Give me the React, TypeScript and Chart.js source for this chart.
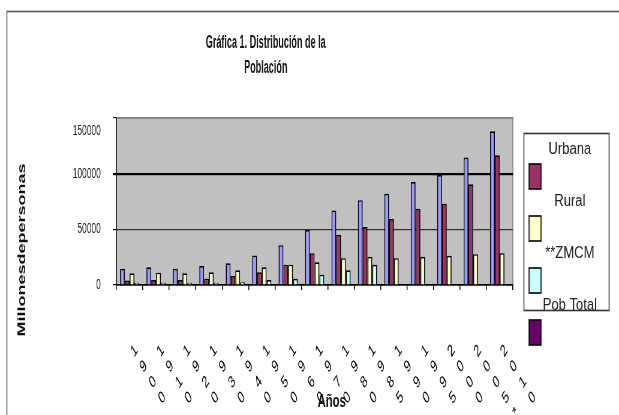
import React, { useEffect, useRef } from 'react';
import { Chart, registerables } from 'chart.js';

Chart.register(...registerables);

// Census years; each label is stacked one character per line.
const years = ['1900', '1910', '1920', '1930', '1940', '1950', '1960', '1970', '1980', '1985', '1990', '1995', '2000', '2005*', '2010'];

// Population series (thousands of people)
const pobTotal = [14500, 16000, 14500, 17000, 19600, 26500, 35800, 49400, 66900, 76200, 81900, 92500, 98800, 114500, 138000];
const urbana = [4000, 4500, 4500, 5700, 8100, 11400, 18300, 28600, 45200, 52100, 59300, 68400, 72900, 90400, 116600];
const rural = [10500, 11100, 10500, 11400, 13300, 16000, 18300, 20500, 24100, 25300, 24100, 25300, 26200, 27700, 28600];
const zmcm = [2100, 2100, 2100, 2100, 2400, 4500, 5600, 9300, 13300, 18100, null, null, null, null, null];

const yTicks = [0, 50000, 100000, 150000];
const Y_MAX = 150000;

const titleLines = ['Gráfica 1. Distribución de la', 'Población'];
const yTitle = 'Millonesdepersonas';
const xTitle = 'Años';

// Legend as laid out in the sheet: texts and swatches on alternating rows
const legendTexts = ['Urbana', 'Rural', '**ZMCM', 'Pob Total'];
const legendSwatches = ['#993366', '#FFFFCC', '#CCFFFF', '#660066'];

const FONT = "'Liberation Sans', Arial, sans-serif";
const CANVAS_W = 1032; // drawn wide, shown at 619px
const CANVAS_H = 415;

function condensedText(ctx: CanvasRenderingContext2D, text: string, x: number, y: number, font: string, sx: number) {
  ctx.save();
  ctx.translate(x, y);
  ctx.scale(sx, 1);
  ctx.font = font;
  ctx.fillText(text, 0, 0);
  ctx.restore();
}

const decorPlugin = {
  id: 'decor',
  beforeDraw(chart: any) {
    const { ctx, chartArea: a } = chart;
    ctx.save();
    ctx.fillStyle = '#ffffff';
    ctx.fillRect(0, 0, chart.width, chart.height);
    ctx.strokeStyle = '#555555';
    ctx.lineWidth = 1.6;
    ctx.strokeRect(11.5, 11.5, chart.width + 100, chart.height + 100);
    ctx.fillStyle = '#c0c0c0';
    ctx.fillRect(a.left, a.top, a.right - a.left, a.bottom - a.top);
    ctx.strokeStyle = '#808080';
    ctx.lineWidth = 1.5;
    ctx.strokeRect(a.left, a.top, a.right - a.left, a.bottom - a.top);
    ctx.restore();
  },
  afterDraw(chart: any) {
    const { ctx } = chart;
    ctx.save();
    ctx.fillStyle = '#111111';
    ctx.textAlign = 'center';
    ctx.textBaseline = 'middle';

    // Title
    condensedText(ctx, titleLines[0], 443, 43, `bold 18px ${FONT}`, 0.84);
    condensedText(ctx, titleLines[1], 443, 68, `bold 18px ${FONT}`, 0.84);

    // Y axis title
    ctx.save();
    ctx.translate(37, 250);
    ctx.rotate(-Math.PI / 2);
    ctx.font = `bold 18px ${FONT}`;
    ctx.fillText(yTitle, 0, 0);
    ctx.restore();

    // X axis title
    condensedText(ctx, xTitle, 553, 402, `bold 18px ${FONT}`, 1.05);

    // Legend
    ctx.strokeStyle = '#333333';
    ctx.lineWidth = 1.6;
    ctx.strokeRect(873.5, 133.5, 142, 177);
    const rowH = 52;
    ctx.fillStyle = '#222222';
    legendTexts.forEach((t, i) => {
      condensedText(ctx, t, 950, 150 + i * rowH, `16px ${FONT}`, 1.36);
    });
    legendSwatches.forEach((c, i) => {
      const top = 164 + i * rowH;
      ctx.fillStyle = c;
      ctx.fillRect(882, top, 20, 25);
      ctx.strokeStyle = '#000000';
      ctx.lineWidth = 1.6;
      ctx.strokeRect(882, top, 20, 25);
    });
    ctx.restore();
  },
};

export default function App() {
  const canvasRef = useRef<HTMLCanvasElement | null>(null);

  useEffect(() => {
    if (!canvasRef.current) return;
    document.body.style.overflow = 'hidden';
    const bar = (label: string, data: (number | null)[], color: string) => ({
      label,
      data,
      backgroundColor: color,
      borderColor: '#000000',
      borderWidth: 1.7,
      categoryPercentage: 0.725,
      barPercentage: 1.0,
    });
    const chart = new Chart(canvasRef.current, {
      type: 'bar',
      data: {
        labels: years.map((y) => y.split('')),
        datasets: [
          bar('Pob Total', pobTotal, '#9999FF'),
          bar('Urbana', urbana, '#993366'),
          bar('Rural', rural, '#FFFFCC'),
          bar('**ZMCM', zmcm, '#CCFFFF'),
        ],
      },
      options: {
        responsive: false,
        animation: false,
        devicePixelRatio: 1,
        layout: { padding: { top: 118, right: 177, left: 0, bottom: 0 } },
        plugins: {
          legend: { display: false },
          title: { display: false },
          tooltip: { enabled: false },
        },
        scales: {
          x: {
            afterFit(scale: any) {
              scale.height = 130;
            },
            grid: {
              display: true,
              drawOnChartArea: false,
              offset: true,
              color: '#000000',
              tickLength: 5,
              lineWidth: 1.5,
            },
            border: { color: '#000000', width: 1.5 },
            ticks: {
              autoSkip: false,
              minRotation: 45,
              maxRotation: 45,
              padding: 50,
              labelOffset: 11,
              color: '#000000',
              font: { family: FONT, size: 17, lineHeight: '22px' },
            },
          },
          y: {
            min: 0,
            max: Y_MAX,
            afterFit(scale: any) {
              scale.width = 194;
            },
            afterBuildTicks(scale: any) {
              scale.ticks = yTicks.map((v) => ({ value: v }));
            },
            grid: {
              color: (c: any) =>
                c.tick && c.tick.value === 100000 ? '#000000' : c.tick && c.tick.value === Y_MAX ? '#808080' : '#303030',
              lineWidth: (c: any) => (c.tick && c.tick.value === 100000 ? 2.2 : 1.2),
              tickColor: '#000000',
              tickLength: 6,
            },
            border: { color: '#000000', width: 1.5 },
            ticks: {
              padding: 20,
              color: '#222222',
              // the top label sits a little below its tick
              font: (c: any) => ({
                family: FONT,
                size: 14,
                lineHeight: c.tick && c.tick.value === Y_MAX ? '26px' : 1.2,
              }),
              callback: (v: any) => (v === Y_MAX ? ['', String(v)] : String(v)),
            },
          },
        },
      },
      plugins: [decorPlugin],
    } as any);
    return () => chart.destroy();
  }, []);

  return (
    <div style={{ position: 'fixed', left: 0, top: 0, width: 619, height: 415, overflow: 'hidden', background: '#fff' }}>
      <canvas
        ref={canvasRef}
        width={CANVAS_W}
        height={CANVAS_H}
        style={{ width: '619px', height: '415px', display: 'block' }}
      />
    </div>
  );
}
